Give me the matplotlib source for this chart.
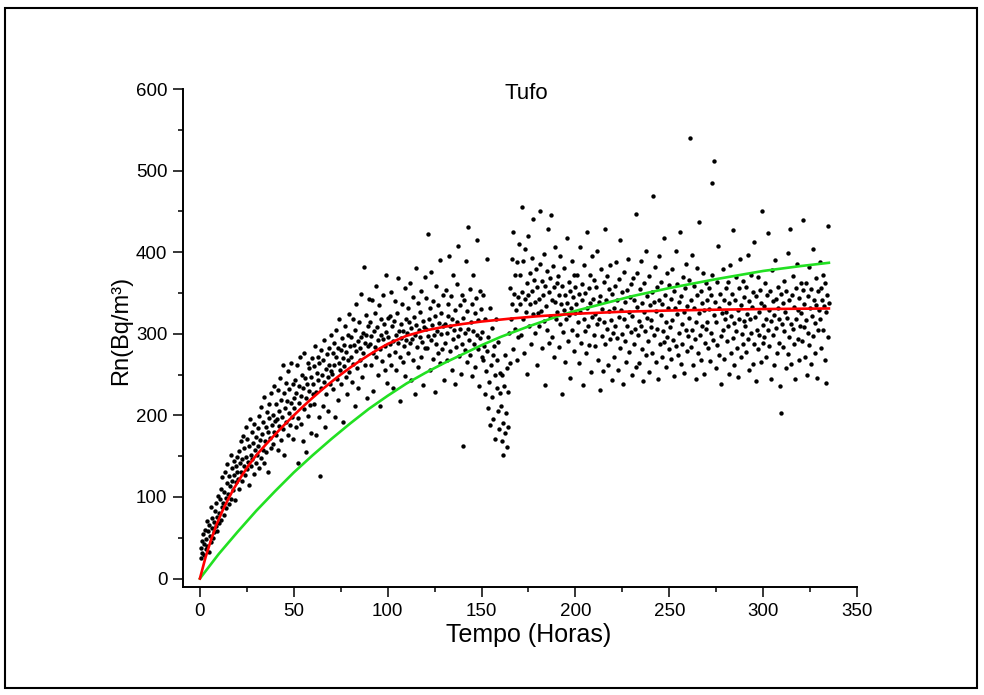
from matplotlib import pyplot as plt
from matplotlib.patches import Rectangle
from matplotlib.ticker import MultipleLocator
import numpy as np

plt.rcParams['font.family'] = ['Liberation Sans', 'DejaVu Sans']

# sampling interval of the monitor, hours (3 readings per hour)
dt = 1.0/3.0

# Rn readings, one row per 10 hours
rn = [
38, 25, 46, 31, 55, 42, 29, 60, 36, 48, 71, 40, 58, 33, 66, 52, 88, 45, 62, 74, 50, 69, 57, 83, 64, 92, 58, 76, 101, 68,
80, 97, 72, 110, 88, 124, 93, 78, 106, 131, 99, 86, 117, 140, 104, 91, 126, 113, 152, 98, 120, 135, 108, 144, 127, 96, 138, 118, 149, 131,
122, 156, 110, 141, 168, 130, 147, 119, 175, 138, 160, 127, 186, 149, 134, 171, 143, 115, 162, 195, 152, 138, 179, 147, 166, 128, 190, 158, 141, 173,
151, 184, 162, 136, 199, 170, 148, 210, 177, 158, 192, 141, 223, 168, 186, 155, 204, 179, 131, 197, 214, 172, 160, 228, 188, 165, 201, 179, 236, 193,
176, 214, 195, 158, 231, 187, 205, 246, 170, 219, 198, 262, 183, 227, 151, 209, 240, 192, 218, 176, 254, 203, 232, 188, 215, 264, 198, 238, 171, 221,
209, 243, 186, 228, 262, 197, 142, 236, 215, 271, 190, 224, 250, 168, 233, 208, 277, 246, 221, 155, 239, 264, 199, 230, 258, 213, 178, 247, 270, 226,
238, 261, 214, 285, 229, 176, 252, 243, 272, 198, 264, 126, 233, 280, 249, 211, 268, 241, 292, 186, 257, 226, 275, 247, 205, 283, 262, 238, 298, 254,
251, 276, 232, 289, 262, 198, 271, 305, 245, 283, 219, 264, 318, 256, 280, 238, 295, 270, 192, 286, 261, 310, 247, 278, 226, 299, 268, 324, 253, 285,
272, 296, 241, 318, 263, 286, 212, 305, 279, 337, 258, 291, 233, 314, 282, 268, 349, 296, 247, 301, 276, 382, 289, 262, 323, 298, 221, 310, 285, 343,
288, 315, 262, 297, 341, 276, 230, 304, 326, 284, 359, 271, 308, 249, 292, 335, 281, 212, 318, 299, 267, 347, 293, 312, 255, 285, 372, 302, 240, 319,
296, 274, 322, 287, 351, 262, 309, 291, 233, 316, 278, 340, 298, 256, 325, 289, 368, 304, 271, 217, 312, 295, 337, 266, 303, 285, 356, 248, 318, 292,
301, 332, 276, 314, 289, 362, 243, 307, 293, 345, 268, 320, 226, 299, 381, 311, 284, 338, 259, 305, 296, 327, 272, 353, 290, 316, 237, 308, 369, 282,
306, 344, 283, 422, 297, 318, 255, 331, 292, 376, 311, 269, 340, 299, 229, 322, 287, 358, 304, 276, 335, 313, 391, 264, 300, 326, 281, 347, 310, 243,
312, 289, 354, 301, 268, 337, 322, 395, 279, 309, 346, 256, 318, 293, 372, 305, 238, 329, 284, 361, 314, 297, 408, 273, 335, 306, 251, 348, 288, 163,
319, 342, 280, 301, 389, 265, 328, 306, 431, 292, 355, 274, 314, 337, 248, 303, 372, 287, 326, 259, 344, 298, 415, 281, 317, 236, 352, 295, 330, 271,
302, 268, 347, 285, 226, 318, 254, 392, 279, 209, 296, 241, 331, 188, 262, 307, 222, 274, 196, 285, 249, 171, 318, 233, 268, 205, 290, 183, 252, 227,
212, 168, 249, 191, 151, 236, 178, 274, 203, 161, 258, 186, 229, 301, 264, 356, 318, 392, 337, 281, 425, 349, 306, 372, 329, 268, 388, 345, 296, 410,
336, 372, 298, 455, 351, 318, 389, 276, 343, 404, 327, 362, 251, 348, 420, 309, 375, 336, 287, 393, 352, 324, 441, 366, 301, 339, 380, 262, 357, 326,
343, 309, 386, 451, 328, 365, 282, 347, 398, 316, 359, 237, 334, 377, 305, 428, 351, 289, 368, 322, 446, 341, 296, 383, 357, 271, 339, 406, 318, 362,
327, 371, 284, 348, 312, 395, 336, 226, 359, 302, 381, 329, 265, 347, 318, 418, 338, 291, 364, 323, 352, 246, 331, 389, 305, 345, 279, 372, 326, 357,
336, 298, 372, 315, 264, 349, 327, 406, 289, 341, 361, 237, 318, 384, 304, 350, 276, 332, 425, 309, 356, 286, 338, 372, 253, 321, 395, 343, 298, 366,
324, 285, 357, 312, 401, 268, 339, 318, 231, 346, 379, 297, 330, 254, 364, 315, 429, 288, 341, 306, 371, 262, 328, 355, 293, 384, 317, 243, 349, 301,
331, 272, 358, 310, 388, 295, 342, 256, 320, 367, 283, 415, 329, 300, 351, 238, 318, 376, 291, 339, 266, 354, 309, 392, 327, 278, 345, 302, 361, 249,
322, 368, 287, 341, 306, 447, 259, 333, 375, 298, 316, 264, 355, 310, 389, 281, 338, 242, 327, 362, 304, 402, 274, 346, 319, 291, 371, 253, 335, 308,
317, 351, 276, 469, 339, 298, 382, 265, 328, 306, 357, 244, 341, 395, 287, 323, 364, 271, 336, 303, 418, 290, 348, 259, 315, 374, 296, 332, 281, 360,
308, 343, 269, 379, 317, 292, 352, 248, 331, 401, 285, 324, 361, 274, 339, 301, 425, 263, 346, 312, 288, 370, 327, 252, 356, 305, 385, 279, 334, 297,
319, 366, 540, 284, 341, 305, 397, 262, 332, 358, 294, 314, 244, 347, 381, 276, 325, 437, 299, 352, 268, 338, 310, 375, 251, 329, 289, 362, 306, 342,
314, 283, 356, 330, 267, 347, 301, 372, 485, 292, 323, 512, 339, 258, 315, 364, 286, 408, 331, 274, 349, 297, 238, 325, 380, 305, 342, 269, 318, 356,
327, 291, 363, 309, 251, 338, 384, 276, 322, 349, 295, 427, 313, 262, 341, 304, 370, 283, 329, 247, 356, 318, 392, 271, 335, 300, 365, 288, 316, 345,
309, 357, 278, 324, 396, 293, 340, 256, 318, 372, 301, 333, 263, 351, 287, 412, 320, 242, 346, 305, 369, 281, 327, 298, 354, 266, 338, 450, 311, 289,
334, 296, 362, 318, 271, 347, 305, 424, 285, 329, 352, 244, 316, 378, 299, 340, 262, 323, 391, 307, 343, 276, 331, 357, 289, 318, 236, 349, 203, 312,
338, 284, 365, 303, 327, 258, 352, 319, 399, 275, 341, 296, 429, 312, 263, 348, 306, 371, 287, 333, 245, 356, 318, 385, 294, 329, 268, 344, 309, 362,
325, 291, 354, 440, 308, 337, 272, 362, 317, 249, 346, 301, 382, 286, 331, 355, 263, 322, 404, 297, 341, 313, 276, 368, 335, 246, 352, 305, 329, 388,
318, 356, 282, 341, 372, 305, 334, 268, 362, 327, 240, 348, 296, 432, 338,
]
tempo = (np.arange(len(rn)) + 1) * dt

# fitted curves
red_t = [0, 3, 6, 9, 12, 15, 18, 22, 26, 30, 35, 40, 45, 50, 55, 60, 65, 70, 75, 80, 85, 90, 95, 100,
	110, 120, 130, 140, 150, 165, 180, 200, 225, 250, 275, 300, 335]
red_rn = [0, 26, 48, 67, 83, 97, 110, 125, 139, 151, 164, 176.5, 188.5, 200, 211, 221.5, 231.5, 241, 250, 258.5, 266.5, 274, 281, 287.5,
	297.5, 304, 308.5, 312, 315, 318.5, 321.5, 324.5, 327, 328.5, 329.5, 330.3, 331]

green_t = [0, 10, 20, 30, 40, 50, 60, 70, 80, 90, 100, 110, 120, 130, 140, 150, 160, 175, 190, 200,
	215, 230, 250, 275, 300, 320, 335]
green_rn = [0, 30, 57, 83, 107, 130, 151, 171, 190, 208, 224, 239, 252, 264, 275, 286, 296, 309, 321, 328,
	337, 346, 356, 367, 377, 383, 387]

fig = plt.figure(figsize=(9.84, 6.95), dpi=100)
ax = fig.add_axes([0.186, 0.1554, 0.685, 0.7165])

ax.scatter(tempo, rn, s=10, c='black', marker='o', linewidths=0, zorder=2)
ax.plot(green_t, green_rn, color='#22e022', lw=1.9, zorder=3)
ax.plot(red_t, red_rn, color='#ff0000', lw=1.9, zorder=4)

ax.set_xlim(-9, 350)
ax.set_ylim(-10.4, 600)
ax.xaxis.set_major_locator(MultipleLocator(50))
ax.xaxis.set_minor_locator(MultipleLocator(25))
ax.yaxis.set_major_locator(MultipleLocator(100))
ax.yaxis.set_minor_locator(MultipleLocator(50))

for s in ['top', 'right']:
	ax.spines[s].set_visible(False)
for s in ['left', 'bottom']:
	ax.spines[s].set_linewidth(1.4)

ax.tick_params(which='major', direction='out', length=7.2, width=1.1, labelsize=13.5, pad=4)
ax.tick_params(which='minor', direction='out', length=3.6, width=1.1)

ax.set_xlabel('Tempo (Horas)', fontsize=18, va='center')
ax.xaxis.set_label_coords(0.512, -0.097)
ax.set_ylabel('Rn(Bq/m³)', fontsize=17, va='center')
ax.yaxis.set_label_coords(-0.092, 0.516)
ax.text(0.51, 0.992, 'Tufo', transform=ax.transAxes, fontsize=16, ha='center', va='center')

fig.patches.append(Rectangle((5/984, 7/695), 972/984, 680/695, transform=fig.transFigure,
	fill=False, edgecolor='black', lw=1.5))

plt.savefig('out.png', dpi=100)
